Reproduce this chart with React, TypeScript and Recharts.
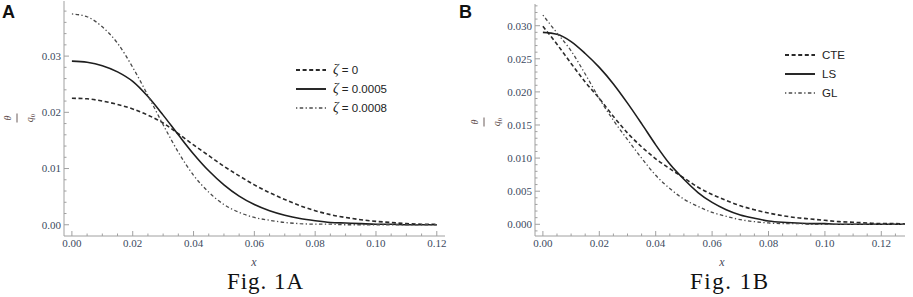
import React from 'react';
import { LineChart, Line, XAxis, YAxis, Legend } from 'recharts';

// ---------- Panel A data ----------
const xA = [0, 0.005, 0.01, 0.015, 0.02, 0.025, 0.03, 0.035, 0.04, 0.045, 0.05, 0.055, 0.06, 0.065, 0.07, 0.075, 0.08, 0.085, 0.09, 0.095, 0.1, 0.105, 0.11, 0.115, 0.12];
const zeta0 = [0.0225, 0.0224, 0.022, 0.0214, 0.0206, 0.0195, 0.0181, 0.0162, 0.0142, 0.0123, 0.0104, 0.0087, 0.0071, 0.0057, 0.0045, 0.0034, 0.0025, 0.0018, 0.0013, 0.0009, 0.0006, 0.0004, 0.0002, 0.0001, 0.0001];
const zeta5 = [0.0291, 0.0289, 0.0283, 0.0272, 0.0255, 0.0228, 0.0195, 0.016, 0.0126, 0.0096, 0.0071, 0.0051, 0.0036, 0.0025, 0.0017, 0.0011, 0.0007, 0.0004, 0.0003, 0.0002, 0.0001, 0.0001, 0, 0, 0];
const zeta8 = [0.0375, 0.037, 0.0352, 0.0323, 0.028, 0.023, 0.0178, 0.0129, 0.0088, 0.0058, 0.0036, 0.0022, 0.0013, 0.0008, 0.0004, 0.0002, 0.0001, 0.0001, 0, 0, 0, 0, 0, 0, 0];
const xTicksA = [0, 0.02, 0.04, 0.06, 0.08, 0.1, 0.12];
const yTicksA = [0, 0.01, 0.02, 0.03];

// ---------- Panel B data ----------
const xB = [0, 0.005, 0.01, 0.015, 0.02, 0.025, 0.03, 0.035, 0.04, 0.045, 0.05, 0.055, 0.06, 0.065, 0.07, 0.075, 0.08, 0.085, 0.09, 0.095, 0.1, 0.105, 0.11, 0.115, 0.12, 0.125, 0.13];
const cte = [0.0299, 0.0272, 0.0243, 0.0215, 0.019, 0.0163, 0.0138, 0.0117, 0.0099, 0.0084, 0.007, 0.0056, 0.0045, 0.0036, 0.0028, 0.0022, 0.0017, 0.0013, 0.001, 0.0008, 0.0006, 0.0004, 0.0003, 0.0002, 0.0001, 0.0001, 0];
const ls = [0.029, 0.0287, 0.0276, 0.0258, 0.0237, 0.0212, 0.0183, 0.0152, 0.012, 0.0091, 0.0068, 0.0048, 0.0033, 0.0022, 0.0014, 0.0009, 0.0005, 0.0003, 0.0002, 0.0001, 0.0001, 0, 0, 0, 0, 0, 0];
const gl = [0.0316, 0.0289, 0.0262, 0.0227, 0.019, 0.0157, 0.0128, 0.01, 0.0074, 0.0054, 0.0038, 0.0027, 0.0018, 0.0012, 0.0007, 0.0004, 0.0002, 0.0001, 0.0001, 0, 0, 0, 0, 0, 0, 0, 0];
const xTicksB = [0, 0.02, 0.04, 0.06, 0.08, 0.1, 0.12];
const yTicksB = [0, 0.005, 0.01, 0.015, 0.02, 0.025, 0.03];

const FRAME = '#a0a0a0';
const TICK_TEXT = '#3b4a60';
const H = 297;

const dataA = xA.map((x, i) => ({ x, z0: zeta0[i], z5: zeta5[i], z8: zeta8[i] }));
const dataB = xB.map((x, i) => ({ x, cte: cte[i], ls: ls[i], gl: gl[i] }));

const STYLES = {
  dashed: { stroke: '#2a2a2a', width: 1.6, dash: '4 2.6' },
  solid: { stroke: '#1e1e1e', width: 1.6, dash: undefined },
  dashdot: { stroke: '#4a4a4a', width: 1.3, dash: '1.3 2.4 3.5 2.4' },
};

function range(start: number, stop: number, step: number) {
  const out: number[] = [];
  const n = Math.round((stop - start) / step);
  for (let i = 0; i <= n; i++) out.push(+(start + i * step).toFixed(6));
  return out;
}
const isIn = (v: number, arr: number[]) => arr.some((t) => Math.abs(t - v) < 1e-9);

const makeTick = (side: string, majors: number[], digits: number, showLabel: boolean) => (props: any) => {
  const { x, y, payload } = props;
  const v = payload.value;
  const major = isIn(v, majors);
  const len = major ? 5 : 2.5;
  let line;
  if (side === 'bottom') line = <line x1={x} x2={x} y1={y} y2={y - len} stroke={FRAME} />;
  else if (side === 'top') line = <line x1={x} x2={x} y1={y} y2={y + len} stroke={FRAME} />;
  else if (side === 'left') line = <line x1={x} x2={x + len} y1={y} y2={y} stroke={FRAME} />;
  else line = <line x1={x} x2={x - len} y1={y} y2={y} stroke={FRAME} />;
  let label = null;
  if (showLabel && major) {
    const txt = v.toFixed(digits);
    if (side === 'bottom')
      label = (
        <text x={x} y={y + 11} textAnchor="middle" fontFamily="Liberation Serif" fontSize={11} fill={TICK_TEXT}>
          {txt}
        </text>
      );
    else
      label = (
        <text x={x - 3} y={y} dy="0.35em" textAnchor="end" fontFamily="Liberation Serif" fontSize={11} fill={TICK_TEXT}>
          {txt}
        </text>
      );
  }
  return (
    <g>
      {line}
      {label}
    </g>
  );
};

type SeriesDef = { key: string; label: React.ReactNode; style: keyof typeof STYLES };

const legendContent = (items: SeriesDef[]) => () => (
  <div style={{ display: 'flex', flexDirection: 'column' }}>
    {items.map((it) => {
      const s = STYLES[it.style];
      return (
        <div key={it.key} style={{ display: 'flex', alignItems: 'center', height: 19 }}>
          <svg width={30} height={6} style={{ display: 'block' }}>
            <line x1={0} x2={30} y1={3} y2={3} stroke={s.stroke} strokeWidth={s.width + 0.3} strokeDasharray={s.dash} />
          </svg>
          <span style={{ marginLeft: 7, fontFamily: '"Liberation Sans", Arial, sans-serif', fontSize: 11.5, color: '#222', whiteSpace: 'nowrap' }}>
            {it.label}
          </span>
        </div>
      );
    })}
  </div>
);

type PanelProps = {
  left: number;
  width: number;
  plotLeft: number;
  plotRight: number;
  plotTop: number;
  plotBottom: number;
  data: any[];
  series: SeriesDef[];
  xDomain: [number, number];
  yDomain: [number, number];
  xMajor: number[];
  xMinor: number[];
  yMajor: number[];
  yMinor: number[];
  yDigits: number;
  legendLeft: number;
  legendTop: number;
};

function Panel(p: PanelProps) {
  const xAll = [...p.xMinor];
  const yAll = [...p.yMinor];
  return (
    <div style={{ position: 'absolute', left: p.left, top: 0 }}>
      <LineChart
        width={p.width}
        height={H}
        data={p.data}
        margin={{ top: p.plotTop, right: p.width - p.plotRight, bottom: H - p.plotBottom - 20, left: 0 }}
      >
        <XAxis
          dataKey="x"
          type="number"
          domain={p.xDomain}
          allowDataOverflow
          ticks={xAll}
          interval={0}
          height={20}
          tickSize={0}
          tickMargin={0}
          tickLine={false}
          axisLine={{ stroke: FRAME }}
          tick={makeTick('bottom', p.xMajor, 2, true)}
        />
        <XAxis
          xAxisId="top"
          orientation="top"
          dataKey="x"
          type="number"
          domain={p.xDomain}
          allowDataOverflow
          ticks={xAll}
          interval={0}
          height={0}
          tickSize={0}
          tickMargin={0}
          tickLine={false}
          axisLine={{ stroke: FRAME }}
          tick={makeTick('top', p.xMajor, 2, false)}
        />
        <YAxis
          type="number"
          domain={p.yDomain}
          allowDataOverflow
          ticks={yAll}
          interval={0}
          width={p.plotLeft}
          tickSize={0}
          tickMargin={0}
          tickLine={false}
          axisLine={{ stroke: FRAME }}
          tick={makeTick('left', p.yMajor, p.yDigits, true)}
        />
        <YAxis
          yAxisId="right"
          orientation="right"
          type="number"
          domain={p.yDomain}
          allowDataOverflow
          ticks={yAll}
          interval={0}
          width={0}
          tickSize={0}
          tickMargin={0}
          tickLine={false}
          axisLine={{ stroke: FRAME }}
          tick={makeTick('right', p.yMajor, p.yDigits, false)}
        />
        <Legend
          layout="horizontal"
          verticalAlign="middle"
          align="center"
          content={legendContent(p.series)}
          wrapperStyle={{ left: p.legendLeft, top: p.legendTop, width: 'auto', height: 'auto' }}
        />
        {p.series.map((s) => {
          const st = STYLES[s.style];
          return (
            <Line
              key={s.key}
              dataKey={s.key}
              type="monotone"
              stroke={st.stroke}
              strokeWidth={st.width}
              strokeDasharray={st.dash}
              dot={false}
              activeDot={false}
              isAnimationActive={false}
            />
          );
        })}
      </LineChart>
    </div>
  );
}

const zetaLabel = (val: string) => (
  <>
    <span style={{ fontFamily: '"Liberation Serif", serif', fontStyle: 'italic', fontSize: 14 }}>ζ</span> = {val}
  </>
);

const seriesA: SeriesDef[] = [
  { key: 'z0', label: zetaLabel('0'), style: 'dashed' },
  { key: 'z5', label: zetaLabel('0.0005'), style: 'solid' },
  { key: 'z8', label: zetaLabel('0.0008'), style: 'dashdot' },
];
const seriesB: SeriesDef[] = [
  { key: 'cte', label: 'CTE', style: 'dashed' },
  { key: 'ls', label: 'LS', style: 'solid' },
  { key: 'gl', label: 'GL', style: 'dashdot' },
];

function YLabel({ cx, cy }: { cx: number; cy: number }) {
  return (
    <g transform={`translate(${cx},${cy}) rotate(-90)`} fill="#5a4a48">
      <text x={0} y={-10} dy="0.35em" textAnchor="middle" fontFamily="Liberation Serif" fontStyle="italic" fontSize={10}>
        θ
      </text>
      <line x1={-4.5} x2={4.5} y1={0} y2={0} stroke="#5a4a48" strokeWidth={0.9} />
      <text x={0} y={12} dy="0.35em" textAnchor="middle" fontFamily="Liberation Serif" fontStyle="italic" fontSize={10}>
        q<tspan fontSize={7} dy="2" fontStyle="normal">0</tspan>
      </text>
    </g>
  );
}

export default function App() {
  return (
    <div style={{ position: 'absolute', left: 0, top: 0, width: 913, height: H, background: '#fff', overflow: 'hidden' }}>
      <Panel
        left={0}
        width={460}
        plotLeft={64}
        plotRight={445}
        plotTop={1}
        plotBottom={236}
        data={dataA}
        series={seriesA}
        xDomain={[-0.0026, 0.1227]}
        yDomain={[-0.002, 0.0398]}
        xMajor={xTicksA}
        xMinor={range(0, 0.12, 0.005)}
        yMajor={yTicksA}
        yMinor={range(0, 0.038, 0.002)}
        yDigits={2}
        legendLeft={296}
        legendTop={60}
      />
      <Panel
        left={453}
        width={460}
        plotLeft={82}
        plotRight={452}
        plotTop={4}
        plotBottom={236}
        data={dataB}
        series={seriesB}
        xDomain={[-0.0028, 0.1284]}
        yDomain={[-0.00177, 0.03328]}
        xMajor={xTicksB}
        xMinor={range(0, 0.125, 0.005)}
        yMajor={yTicksB}
        yMinor={range(-0.001, 0.033, 0.001)}
        yDigits={3}
        legendLeft={332}
        legendTop={45}
      />
      <svg width={913} height={H} style={{ position: 'absolute', left: 0, top: 0, pointerEvents: 'none' }}>
        <text x={2} y={18} fontFamily="Liberation Sans" fontWeight="bold" fontSize={18} fill="#111">A</text>
        <text x={459} y={18} fontFamily="Liberation Sans" fontWeight="bold" fontSize={18} fill="#111">B</text>
        <YLabel cx={17} cy={118} />
        <YLabel cx={484} cy={122} />
        <text x={254} y={266} textAnchor="middle" fontFamily="Liberation Serif" fontStyle="italic" fontSize={12} fill="#4a4a5a">x</text>
        <text x={722} y={266} textAnchor="middle" fontFamily="Liberation Serif" fontStyle="italic" fontSize={12} fill="#4a4a5a">x</text>
        <text x={265} y={289} textAnchor="middle" fontFamily="Liberation Serif" fontSize={23} fill="#111" textLength={76} lengthAdjust="spacing">Fig. 1A</text>
        <text x={729} y={289} textAnchor="middle" fontFamily="Liberation Serif" fontSize={23} fill="#111" textLength={78} lengthAdjust="spacing">Fig. 1B</text>
      </svg>
    </div>
  );
}
